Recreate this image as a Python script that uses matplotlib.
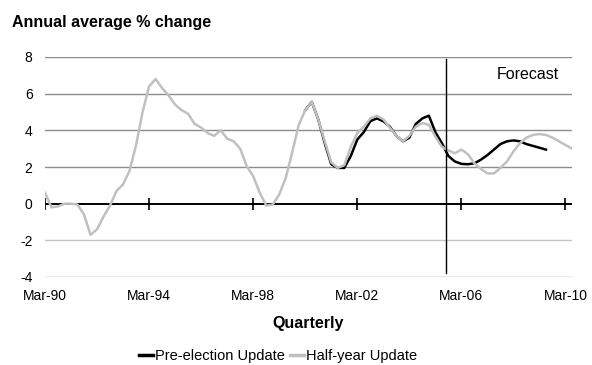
import numpy as np
import matplotlib
matplotlib.use("Agg")
import matplotlib.pyplot as plt

plt.rcParams['font.family'] = ['Liberation Sans', 'DejaVu Sans']

# quarterly index, 0 = Mar-90
half_year = [0.6, -0.2, -0.15, 0.0, 0.0, -0.05, -0.6, -1.7, -1.4, -0.7,
             -0.1, 0.7, 1.05, 1.8, 3.2, 5.0, 6.4, 6.8, 6.3, 5.9,
             5.4, 5.1, 4.9, 4.35, 4.15, 3.85, 3.7, 4.0, 3.55, 3.4,
             3.0, 2.05, 1.5, 0.6, -0.1, -0.05, 0.5, 1.4, 2.8, 4.3,
             5.1, 5.55, 4.6, 3.4, 2.25, 1.95, 2.1, 3.1, 3.85, 4.2,
             4.65, 4.8, 4.6, 4.15, 3.7, 3.4, 3.7, 4.2, 4.4, 4.3,
             3.65, 3.1, 2.9, 2.75, 2.95, 2.7, 2.2, 1.9, 1.65, 1.65,
             1.95, 2.3, 2.85, 3.3, 3.6, 3.75, 3.8, 3.75, 3.6, 3.4,
             3.2, 3.0]
pre_election_start = 40
pre_election = [5.1, 5.55, 4.6, 3.3, 2.15, 1.95, 1.95, 2.6, 3.5, 3.9,
                4.5, 4.65, 4.5, 4.2, 3.7, 3.4, 3.6, 4.35, 4.65, 4.8,
                3.9, 3.3, 2.6, 2.3, 2.17, 2.15, 2.2, 2.4, 2.65, 2.95,
                3.25, 3.4, 3.45, 3.4, 3.25, 3.15, 3.05, 2.95]
tick_pos = [0, 16, 32, 48, 64, 80]
tick_labels = ['Mar-90', 'Mar-94', 'Mar-98', 'Mar-02', 'Mar-06', 'Mar-10']
y_ticks = [-4, -2, 0, 2, 4, 6, 8]
forecast_start = 61.7

fig = plt.figure(figsize=(5.92, 3.65), dpi=100)
ax = fig.add_axes([45/592, 1-277/365, 527/592, 220/365])

# gridlines
for v in y_ticks:
    if v == 0:
        continue
    col = '#c4c4c4' if v == -2 else '#8c8c8c'
    ax.axhline(v, color=col, lw=1.0, zorder=1)

ax.axhline(0, color='black', lw=1.4, zorder=2)
ax.plot(tick_pos, [0]*len(tick_pos), linestyle='None', marker='|',
        markersize=8, markeredgewidth=1.2, color='black', zorder=2)

x_half = np.arange(len(half_year))
x_pre = np.arange(pre_election_start, pre_election_start + len(pre_election))
ax.plot(x_pre, pre_election, color='black', lw=1.8, zorder=3,
        label='Pre-election Update')
ax.plot(x_half, half_year, color='#c0c0c0', lw=1.8, zorder=4,
        label='Half-year Update')

ax.plot([forecast_start, forecast_start], [7.9, -3.78], color='black', lw=1.0, zorder=5)
ax.text(74.2, 7.05, 'Forecast', fontsize=11.5, ha='center', va='center')

ax.set_xlim(0, 81)
ax.set_ylim(-4, 8)
ax.set_xticks(tick_pos)
ax.set_xticklabels(tick_labels, fontsize=10)
ax.set_yticks(y_ticks)
ax.set_yticklabels([str(v) for v in y_ticks], fontsize=10)
ax.tick_params(axis='both', length=0)
ax.tick_params(axis='x', pad=9)
ax.tick_params(axis='y', pad=9)
for s in ax.spines.values():
    s.set_visible(False)

ax.set_xlabel('Quarterly', fontsize=11.5, fontweight='bold', labelpad=9)
fig.text(12/592, 1-22/365, 'Annual average % change', fontsize=11.5,
         fontweight='bold', va='center', ha='left')

leg = fig.legend(loc='center', bbox_to_anchor=(278/592, 1-356/365), ncol=2,
                 frameon=False, fontsize=10.5, handlelength=1.0,
                 handletextpad=0.15, columnspacing=0.3, borderpad=0)
for line in leg.get_lines():
    line.set_linewidth(2.5)

fig.savefig('out.png', dpi=100)
